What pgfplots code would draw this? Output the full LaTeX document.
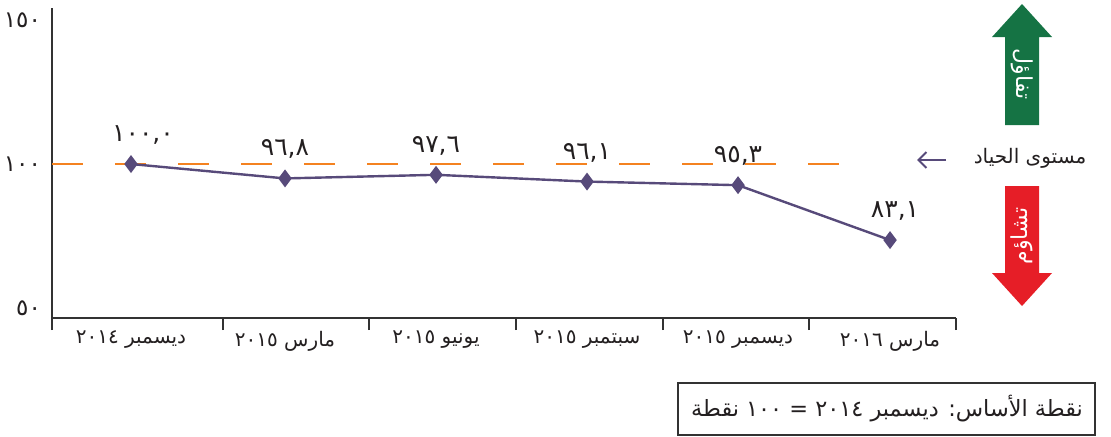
\documentclass[border=0pt]{standalone}
\usepackage{pgfplots}
\pgfplotsset{compat=1.18}
\usepackage{fontspec}
\setmainfont{DejaVu Sans}
\newfontfamily\arabicfont[Script=Arabic]{DejaVu Sans}
\TeXXeTstate=1
\usetikzlibrary{arrows.meta}
\definecolor{linepurple}{RGB}{87,74,122}
\definecolor{dashorange}{RGB}{244,130,32}
\definecolor{upgreen}{RGB}{21,115,68}
\definecolor{downred}{RGB}{230,30,39}
\definecolor{axisgray}{RGB}{50,50,50}
\definecolor{textcol}{RGB}{35,31,32}
\newcommand{\ar}[1]{{\arabicfont\beginR #1\endR}}
\newcommand{\LR}[1]{\beginL#1\endL{}}
\begin{document}
\begin{tikzpicture}
\path[use as bounding box] (0,0) rectangle (555.5pt,218pt);
% main axis (scale as printed)
\begin{axis}[
  at={(26pt,59pt)}, anchor=south west, scale only axis,
  width=452pt, height=155pt,
  xmin=52, xmax=956, ymin=46.53, ymax=154.17,
  axis x line=bottom, axis y line=left,
  axis line style={-, draw=axisgray, line width=1pt},
  ytick={50,100,150}, yticklabels={٥٠,١٠٠,١٥٠},
  major tick length=0pt,
  xtick={131,285,436,587,738,890},
  xticklabels={
    {\ar{ديسمبر \LR{٢٠١٤}}},
    {\ar{مارس \LR{٢٠١٥}}},
    {\ar{يونيو \LR{٢٠١٥}}},
    {\ar{سبتمبر \LR{٢٠١٥}}},
    {\ar{ديسمبر \LR{٢٠١٥}}},
    {\ar{مارس \LR{٢٠١٦}}}},
  extra x ticks={52,223,369,516,663,809,956},
  extra x tick labels={},
  extra x tick style={major tick length=6pt, tick align=outside,
     tick style={draw=axisgray, line width=1pt}},
  ticklabel style={font=\fontsize{10}{12}\selectfont, text=textcol},
  yticklabel style={font=\fontsize{11.5}{13}\selectfont, xshift=-2pt},
  xticklabel style={yshift=-3pt},
  clip=false,
]
\addplot[dashorange, line width=1pt, dash pattern=on 15.5pt off 16pt] coordinates {(52,100) (845,100)};
\end{axis}
% overlay axis for the index line
\begin{axis}[
  at={(26pt,59pt)}, anchor=south west, scale only axis,
  width=452pt, height=155pt,
  xmin=52, xmax=956, ymin=65.78, ymax=134.67,
  hide axis, clip=false,
]
\addplot[linepurple, line width=1.2pt, mark=diamond*, mark size=3.5pt,
  mark options={fill=linepurple, draw=linepurple},
  nodes near coords, point meta=explicit symbolic,
  nodes near coords style={font=\fontsize{12.5}{14}\selectfont, text=textcol, anchor=center, yshift=14.5pt}]
coordinates {
  (131,100.0) [\hspace*{12pt}١٠٠,٠]
  (285,96.8) [٩٦,٨]
  (436,97.6) [٩٧,٦]
  (587,96.1) [٩٦,١]
  (738,95.3) [٩٥,٣]
  (890,83.1) [\hspace*{5pt}٨٣,١]
};
\end{axis}
\begin{scope}[x=0.5pt, y=-0.5pt, yshift=218pt]
\fill[upgreen] (1005,125) -- (1005,37) -- (992,37) -- (1022,4) -- (1052,37) -- (1039,37) -- (1039,125) -- cycle;
\node[rotate=-90, text=white, font=\fontsize{11}{13}\selectfont] at (1022,74) {\ar{تفاؤل}};
\fill[downred] (1005,186) -- (1039,186) -- (1039,273) -- (1052,273) -- (1022,306) -- (992,273) -- (1005,273) -- cycle;
\node[rotate=90, text=white, font=\fontsize{11}{13}\selectfont] at (1022,236) {\ar{تشاؤم}};
\node[text=textcol, font=\fontsize{10}{12}\selectfont] at (1030,158) {\ar{مستوى الحياد}};
\draw[linepurple, line width=1pt, -{Straight Barb[length=4pt, width=8pt]}] (946,160) -- (917,160);
\draw[axisgray, line width=0.7pt] (678,383) rectangle (1095,435);
\node[text=textcol, font=\fontsize{11.2}{13}\selectfont] at (887,409) {\ar{نقطة الأساس: ديسمبر \LR{٢٠١٤} = \LR{١٠٠} نقطة}};
\end{scope}
\end{tikzpicture}
\end{document}
